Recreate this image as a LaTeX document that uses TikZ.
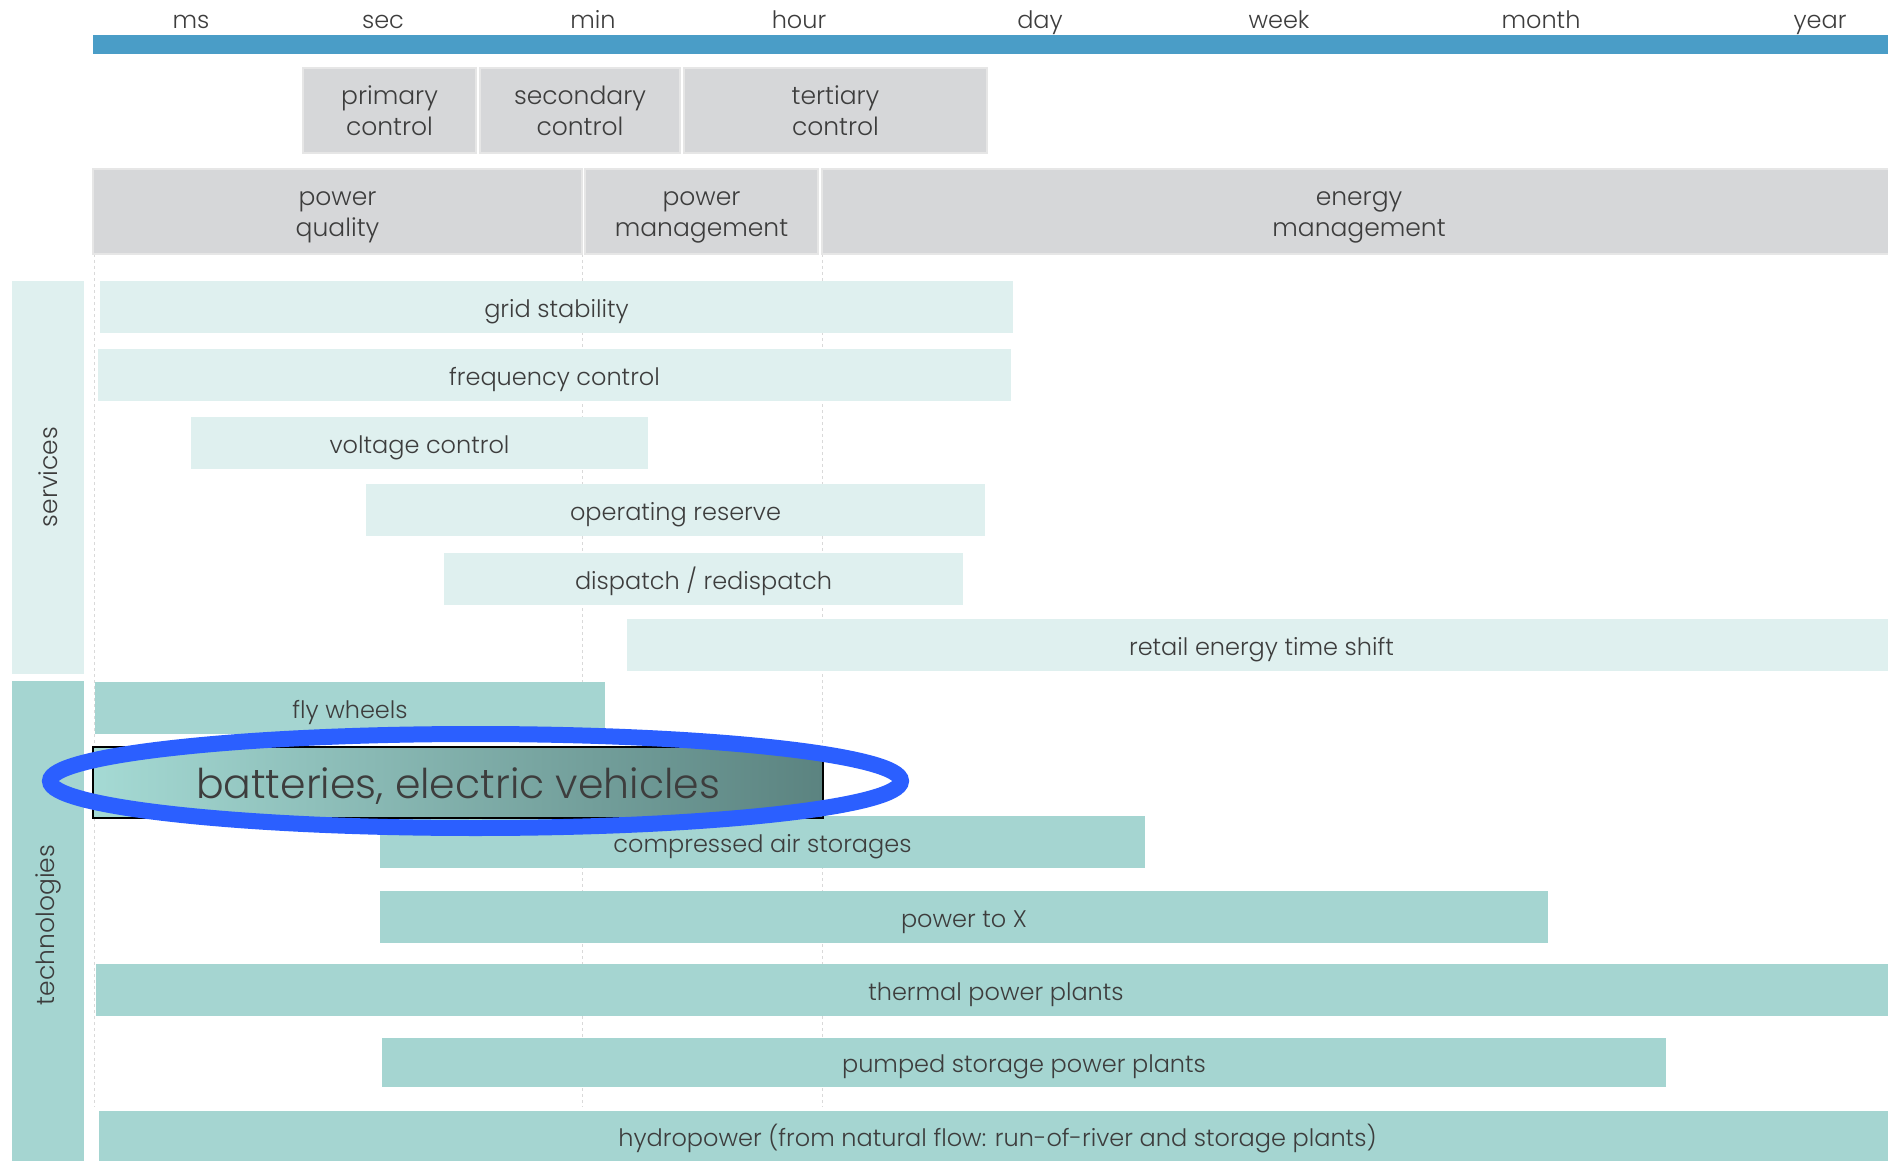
\documentclass[tikz,border=0pt]{standalone}
\usepackage{fontspec}
\setmainfont{Poppins Light}
\definecolor{blueBar}{HTML}{4A9DC7}
\definecolor{headC}{HTML}{D6D7D9}
\definecolor{headB}{HTML}{E6E6E6}
\definecolor{svcC}{HTML}{DFF0EF}
\definecolor{techC}{HTML}{A5D5D1}
\definecolor{txt}{HTML}{3D3D3D}
\definecolor{ringC}{HTML}{2B5FFF}
\definecolor{dashC}{HTML}{D9D9D9}
\definecolor{batL}{HTML}{A5DAD4}
\definecolor{batR}{HTML}{5B8380}
\newcommand\RB[7]{\node[#2, minimum width={(#5-#3)*1pt}, minimum height={(#6-#4)*1pt}] (#1) at ({(#3+#5)/2},{(#4+#6)/2}) {#7};}
\newcommand\HT{\rule{0pt}{26pt}}
\newcommand\HD{\rule[-6pt]{0pt}{6pt}}
\begin{document}
\begin{tikzpicture}[x=1pt,y=-1pt,
  box/.style={rectangle, inner sep=0pt, text=txt, font=\fontsize{24}{29}\selectfont, text height=20pt, text depth=0pt},
  svc/.style={box, fill=svcC},
  tech/.style={box, fill=techC},
  head/.style={rectangle, inner sep=0pt, fill=headC, draw=headB, line width=1.5pt, align=center, text=txt, font=\fontsize{25}{31}\selectfont},
  side/.style={rectangle, inner sep=0pt},
  tlab/.style={anchor=base, text=txt, font=\fontsize{24}{29}\selectfont},
  vlab/.style={rotate=90, text=txt, font=\fontsize{25}{30}\selectfont},
  grid/.style={draw=dashC, dashed, line width=1pt}]
\useasboundingbox (0,0) rectangle (1888,1161);

% time axis
\RB{axis}{side, fill=blueBar}{93}{35}{1888}{54}{}
\node[tlab] (ms) at (191,29) {ms};
\node[tlab] (sec) at (383,29) {sec};
\node[tlab] (min) at (593,29) {min};
\node[tlab] (hour) at (799,29) {hour};
\node[tlab] (day) at (1040,29) {day};
\node[tlab] (week) at (1279,29) {week};
\node[tlab] (month) at (1541,29) {month};
\node[tlab] (year) at (1820,29) {year};

% grid lines
\coordinate (g1t) at (94,254); \coordinate (g1b) at (94,1107);
\coordinate (g2t) at (582,254); \coordinate (g2b) at (582,1107);
\coordinate (g3t) at (822,254); \coordinate (g3b) at (822,1107);
\draw[grid] (g1t) -- (g1b);
\draw[grid] (g2t) -- (g2b);
\draw[grid] (g3t) -- (g3b);

% control boxes
\RB{prim}{head}{303}{68}{476}{153}{\HT primary\\control\HD}
\RB{seco}{head}{480}{68}{680}{153}{\HT secondary\\control\HD}
\RB{tert}{head}{684}{68}{987}{153}{\HT tertiary\\control\HD}

% management boxes
\RB{pq}{head}{93}{169}{582}{254}{\HT power\\quality\HD}
\RB{pm}{head}{585}{169}{818}{254}{\HT power\\management\HD}
\RB{em}{head}{822}{169}{1896}{254}{\HT energy\\management\HD}

% side columns
\RB{svccol}{side, fill=svcC}{12}{281}{84}{674}{}
\RB{techcol}{side, fill=techC}{12}{681}{84}{1170}{}
\node[vlab] (svclab) at (48,477) {services};
\node[vlab] (techlab) at (48,925) {technologies};

% services
\RB{gs}{svc}{100}{281}{1013}{333}{grid stability}
\RB{fc}{svc}{98}{349}{1011}{401}{frequency control}
\RB{vc}{svc}{191}{417}{648}{469}{voltage control}
\RB{or}{svc}{366}{484}{985}{536}{operating reserve}
\RB{dr}{svc}{444}{553}{963}{605}{dispatch / redispatch}
\RB{rt}{svc}{627}{619}{1896}{671}{retail energy time shift}

% technologies
\RB{fw}{tech}{95}{682}{605}{734}{fly wheels}
\RB{ca}{tech}{380}{816}{1145}{868}{compressed air storages}
\RB{px}{tech}{380}{891}{1548}{943}{power to X}
\RB{th}{tech}{96}{964}{1896}{1016}{thermal power plants}
\RB{ps}{tech}{382}{1038}{1666}{1087}{pumped storage power plants}
\RB{hy}{tech}{99}{1111}{1896}{1161}{hydropower (from natural flow: run-of-river and storage plants)}
\RB{bat}{box, left color=batL, right color=batR, draw=black, line width=1.5pt, font=\fontsize{41}{48}\selectfont, text height=31pt}{93}{747}{823}{818}{batteries, electric vehicles}

% highlight ring
\draw[ringC, line width=16pt] (475.5,781) ellipse [x radius=425.5, y radius=47];
\end{tikzpicture}
\end{document}
